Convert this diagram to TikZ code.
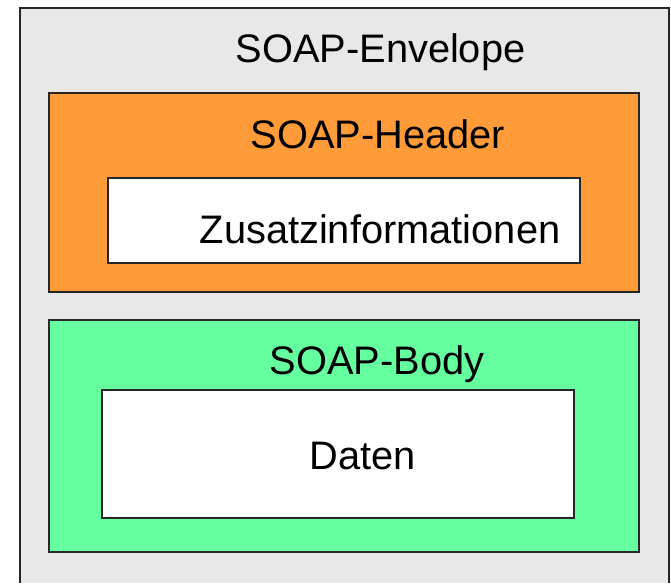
\documentclass[tikz,border=0pt]{standalone}
\usepackage{fontspec}
\setmainfont{Liberation Sans}

\definecolor{envgray}{HTML}{E8E8E8}
\definecolor{hdrorange}{HTML}{FF9B38}
\definecolor{bodygreen}{HTML}{66FFA0}

\begin{document}
\begin{tikzpicture}[x=1pt, y=-1pt, line width=1.2pt,
  lbl/.style={anchor=base, inner sep=0pt, font=\fontsize{39.8}{47}\selectfont},
  frame/.style={draw=black!85}]

\useasboundingbox (0,0) rectangle (671,583);

% envelope, runs off the bottom edge
\fill[envgray] (20,8) rectangle (669,583);
\draw[frame] (20,583) -- (20,8) -- (669,8) -- (669,583);
\node[lbl] (envT) at (380.5,63) {SOAP-Envelope};

% header block
\filldraw[frame, fill=hdrorange] (49,93) rectangle (639,292);
\node[lbl] (hdrT) at (378,148) {SOAP-Header};
\filldraw[frame, fill=white] (108,178) rectangle (580,263);
\node[lbl] (zusT) at (380,243) {Zusatzinformationen};

% body block
\filldraw[frame, fill=bodygreen] (49,320) rectangle (639,552);
\node[lbl] (bodyT) at (377,374) {SOAP-Body};
\filldraw[frame, fill=white] (102,390) rectangle (574,518);
\node[lbl] (datT) at (363,469) {Daten};

\end{tikzpicture}
\end{document}
